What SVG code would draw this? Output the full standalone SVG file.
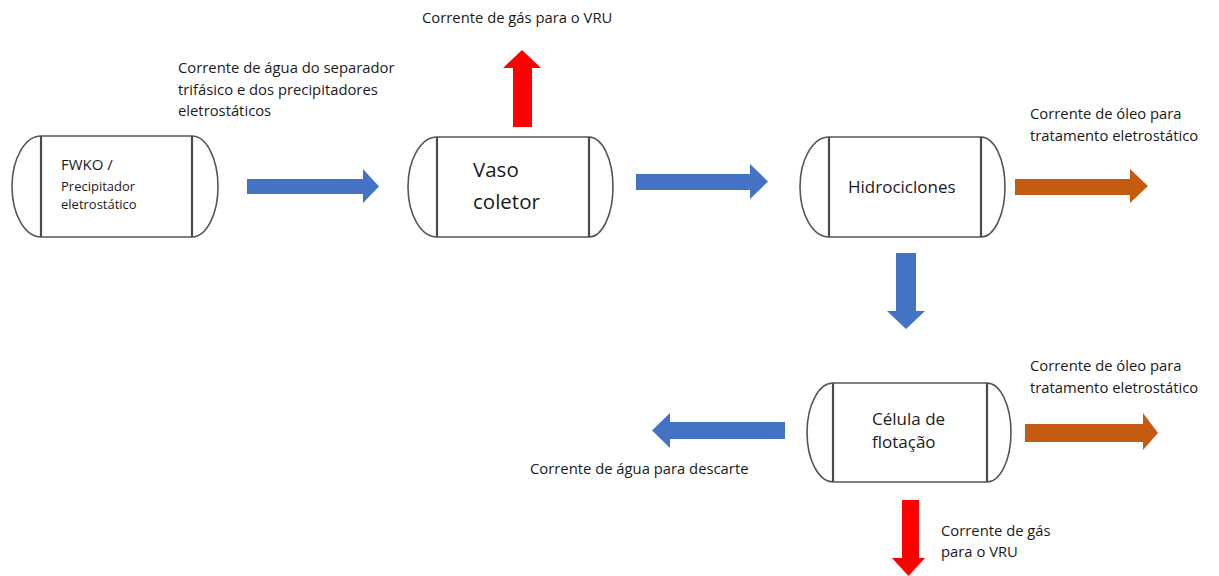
<svg xmlns="http://www.w3.org/2000/svg" width="1219" height="576" viewBox="0 0 1219 576">
<style>
  text { font-family: "Open Sans", "Liberation Sans", sans-serif; fill: #1a1a1a; }
  .lbl { font-size: 14.8px; }
  .shell { fill: #ffffff; stroke: #555555; stroke-width: 1.6; }
  .head { fill: none; stroke: #4a4a4a; stroke-width: 2.2; }
  .blue { fill: #4472C4; }
  .orange { fill: #C55A11; }
  .red { fill: #FF0000; }
</style>
<rect width="1219" height="576" fill="#ffffff"/>

<g id="fwko">
  <path class="shell" d="M41,136 H192 A26,50.5 0 0 1 192,237 H41 A29,50.5 0 0 1 41,136 Z"/>
  <line class="head" x1="41" y1="136" x2="41" y2="237"/>
  <line class="head" x1="192" y1="136" x2="192" y2="237"/>
  <text x="61" y="170" font-size="15">FWKO /</text>
  <text x="61" y="191" font-size="13">Precipitador</text>
  <text x="61" y="209" font-size="13">eletrostático</text>
</g>

<g id="vaso-coletor">
  <path class="shell" d="M437,137 H589 A24,50 0 0 1 589,237 H437 A29,50 0 0 1 437,137 Z"/>
  <line class="head" x1="437" y1="137" x2="437" y2="237"/>
  <line class="head" x1="589" y1="137" x2="589" y2="237"/>
  <text x="473" y="177" font-size="20.5">Vaso</text>
  <text x="473" y="209" font-size="20.5">coletor</text>
</g>

<g id="hidrociclones">
  <path class="shell" d="M829,137 H981 A24,50 0 0 1 981,237 H829 A29,50 0 0 1 829,137 Z"/>
  <line class="head" x1="829" y1="137" x2="829" y2="237"/>
  <line class="head" x1="981" y1="137" x2="981" y2="237"/>
  <text x="848" y="193" font-size="17">Hidrociclones</text>
</g>

<g id="celula-flotacao">
  <path class="shell" d="M833,383 H987 A24,49.5 0 0 1 987,482 H833 A26,49.5 0 0 1 833,383 Z"/>
  <line class="head" x1="833" y1="383" x2="833" y2="482"/>
  <line class="head" x1="987" y1="383" x2="987" y2="482"/>
  <text x="872" y="425" font-size="17">Célula de</text>
  <text x="872" y="448" font-size="17">flotação</text>
</g>

<g id="connectors">
  <polygon class="blue" points="247,179 363,179 363,169 379,186.5 363,203 363,194 247,194"/>
  <polygon class="blue" points="636,174 750,174 750,164 768,181.5 750,199 750,190 636,190"/>
  <polygon class="orange" points="1015,179 1130,179 1130,169 1148,186 1130,203 1130,195 1015,195"/>
  <polygon class="blue" points="896,253 916,253 916,311 925,311 906,329 887,311 896,311"/>
  <polygon class="red" points="513,127 513,68 503,68 522,50 541,68 532,68 532,127"/>
  <polygon class="blue" points="785,422 670,422 670,413 652,430.5 670,448 670,439 785,439"/>
  <polygon class="orange" points="1025,424 1143,424 1143,413 1158,433 1143,450 1143,442 1025,442"/>
  <polygon class="red" points="902,500 919,500 919,558 925,558 908.5,576 892,558 902,558"/>
</g>

<g id="labels">
  <text class="lbl" x="422" y="23">Corrente de gás para o VRU</text>
  <text class="lbl" x="178" y="73">Corrente de água do separador</text>
  <text class="lbl" x="178" y="95">trifásico e dos precipitadores</text>
  <text class="lbl" x="178" y="116">eletrostáticos</text>
  <text class="lbl" x="1030" y="119">Corrente de óleo para</text>
  <text class="lbl" x="1030" y="141">tratamento eletrostático</text>
  <text class="lbl" x="1030" y="371">Corrente de óleo para</text>
  <text class="lbl" x="1030" y="393">tratamento eletrostático</text>
  <text class="lbl" x="530" y="474">Corrente de água para descarte</text>
  <text class="lbl" x="941" y="536">Corrente de gás</text>
  <text class="lbl" x="941" y="557">para o VRU</text>
</g>
</svg>
